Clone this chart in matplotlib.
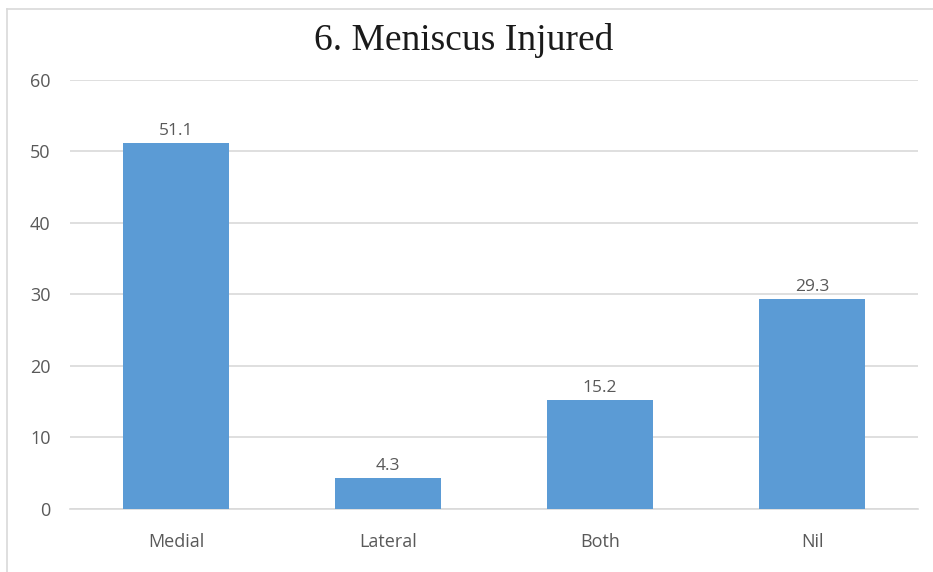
import matplotlib
matplotlib.use("Agg")
import matplotlib.pyplot as plt
from matplotlib.lines import Line2D

categories = ["Medial", "Lateral", "Both", "Nil"]
values = [51.1, 4.3, 15.2, 29.3]
yticks = [0, 10, 20, 30, 40, 50, 60]

bar_color = "#5B9BD5"
text_gray = "#595959"
grid_gray = "#D9D9D9"

fig = plt.figure(figsize=(9.33, 5.72), dpi=100)
fig.patch.set_facecolor("white")
ax = fig.add_axes([0.075, 0.110, 0.909, 0.751])

x = range(len(categories))
bars = ax.bar(x, values, width=0.5, color=bar_color, zorder=3)
for rect, v in zip(bars, values):
    ax.annotate(f"{v:.1f}", (rect.get_x() + rect.get_width() / 2, v),
                xytext=(0, 3), textcoords="offset points",
                ha="center", va="bottom", fontsize=12.5, color=text_gray,
                family="Open Sans")

ax.set_xlim(-0.5, len(categories) - 0.5)
ax.set_ylim(0, 60)
ax.set_yticks(yticks)
ax.set_xticks(list(x))
ax.set_xticklabels(categories)
ax.yaxis.grid(True, color=grid_gray, linewidth=1.2, zorder=0)
ax.set_axisbelow(True)
for s in ["top", "right", "left"]:
    ax.spines[s].set_visible(False)
ax.spines["bottom"].set_color(grid_gray)
ax.spines["bottom"].set_linewidth(1.2)
ax.tick_params(axis="both", length=0, labelsize=13, labelcolor=text_gray)
ax.tick_params(axis="y", pad=14)
ax.tick_params(axis="x", pad=17)
for lbl in ax.get_xticklabels() + ax.get_yticklabels():
    lbl.set_family("Open Sans")

fig.text(0.497, 0.930, "6. Meniscus Injured", ha="center", va="center",
         fontsize=27, family="Liberation Serif", color="#1a1a1a")

# thin frame lines on the chart area's top and left
fig.add_artist(Line2D([0.008, 1.0], [0.984, 0.984], color="#D9D9D9", linewidth=1.2))
fig.add_artist(Line2D([0.008, 0.008], [0.0, 0.984], color="#D9D9D9", linewidth=1.2))

fig.savefig("out.png", dpi=100, facecolor="white")
